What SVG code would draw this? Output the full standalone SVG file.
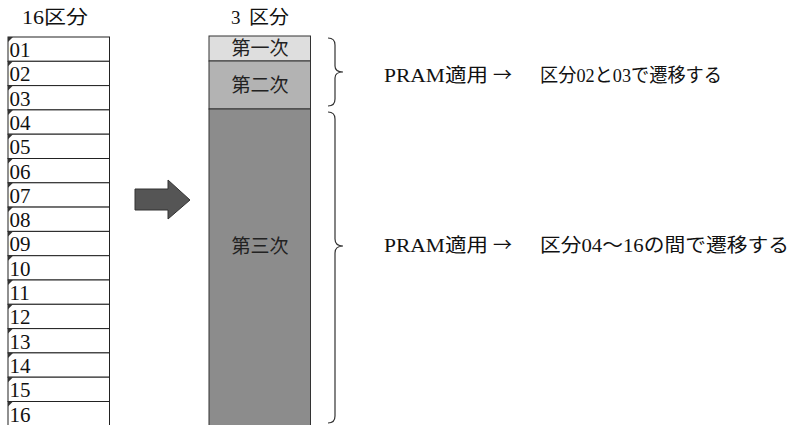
<svg xmlns="http://www.w3.org/2000/svg" width="793" height="425" viewBox="0 0 793 425">
<style>
.t{font-family:"Liberation Serif","Noto Sans CJK JP",serif;font-size:19px;fill:#111}
.n{font-family:"Liberation Serif",serif;font-size:21px;fill:#111}
.c{font-family:"Liberation Serif","Noto Sans CJK JP",serif;font-size:19px;fill:#222;text-anchor:middle}
.ar{font-family:"Noto Sans CJK JP",sans-serif;font-size:19px}
.cell{fill:#fff;stroke:#222;stroke-width:1}
.mk{fill:#333}
.brace{fill:none;stroke:#333;stroke-width:1.2}
</style>
<rect width="793" height="425" fill="#fff"/>
<text class="t" x="22" y="24" textLength="66" lengthAdjust="spacingAndGlyphs">16区分</text>
<text class="t" y="24"><tspan x="231">3</tspan><tspan x="249" textLength="40" lengthAdjust="spacingAndGlyphs">区分</tspan></text>
<g id="table16">
<rect class="cell" x="8" y="37" width="101.5" height="24.3"/><path class="mk" d="M8,37h5l-5,5z"/><text class="n" x="9.5" y="57">01</text>
<rect class="cell" x="8" y="61.3" width="101.5" height="24.3"/><path class="mk" d="M8,61.3h5l-5,5z"/><text class="n" x="9.5" y="81.3">02</text>
<rect class="cell" x="8" y="85.6" width="101.5" height="24.3"/><path class="mk" d="M8,85.6h5l-5,5z"/><text class="n" x="9.5" y="105.6">03</text>
<rect class="cell" x="8" y="109.9" width="101.5" height="24.3"/><path class="mk" d="M8,109.9h5l-5,5z"/><text class="n" x="9.5" y="129.9">04</text>
<rect class="cell" x="8" y="134.2" width="101.5" height="24.3"/><path class="mk" d="M8,134.2h5l-5,5z"/><text class="n" x="9.5" y="154.2">05</text>
<rect class="cell" x="8" y="158.5" width="101.5" height="24.3"/><path class="mk" d="M8,158.5h5l-5,5z"/><text class="n" x="9.5" y="178.5">06</text>
<rect class="cell" x="8" y="182.8" width="101.5" height="24.3"/><path class="mk" d="M8,182.8h5l-5,5z"/><text class="n" x="9.5" y="202.8">07</text>
<rect class="cell" x="8" y="207.1" width="101.5" height="24.3"/><path class="mk" d="M8,207.1h5l-5,5z"/><text class="n" x="9.5" y="227.1">08</text>
<rect class="cell" x="8" y="231.4" width="101.5" height="24.3"/><path class="mk" d="M8,231.4h5l-5,5z"/><text class="n" x="9.5" y="251.4">09</text>
<rect class="cell" x="8" y="255.7" width="101.5" height="24.3"/><path class="mk" d="M8,255.7h5l-5,5z"/><text class="n" x="9.5" y="275.7">10</text>
<rect class="cell" x="8" y="280" width="101.5" height="24.3"/><path class="mk" d="M8,280h5l-5,5z"/><text class="n" x="9.5" y="300">11</text>
<rect class="cell" x="8" y="304.3" width="101.5" height="24.3"/><path class="mk" d="M8,304.3h5l-5,5z"/><text class="n" x="9.5" y="324.3">12</text>
<rect class="cell" x="8" y="328.6" width="101.5" height="24.3"/><path class="mk" d="M8,328.6h5l-5,5z"/><text class="n" x="9.5" y="348.6">13</text>
<rect class="cell" x="8" y="352.9" width="101.5" height="24.3"/><path class="mk" d="M8,352.9h5l-5,5z"/><text class="n" x="9.5" y="372.9">14</text>
<rect class="cell" x="8" y="377.2" width="101.5" height="24.3"/><path class="mk" d="M8,377.2h5l-5,5z"/><text class="n" x="9.5" y="397.2">15</text>
<rect class="cell" x="8" y="401.5" width="101.5" height="30"/><path class="mk" d="M8,401.5h5l-5,5z"/><text class="n" x="9.5" y="421.5">16</text>
</g>
<g id="arrow">
<path d="M135,189H168V180L190,200L168,219V210H135Z" fill="#555" stroke="#333" stroke-width="1"/>
</g>
<g id="dai1">
<rect x="209" y="36" width="101.5" height="25" fill="#dedede" stroke="#333" stroke-width="1"/>
<text class="c" x="260" y="55">第一次</text>
</g>
<g id="dai2">
<rect x="209" y="61" width="101.5" height="48" fill="#b3b3b3" stroke="#333" stroke-width="1"/>
<text class="c" x="260" y="92">第二次</text>
</g>
<g id="dai3">
<rect x="209" y="109" width="101.5" height="330" fill="#8c8c8c" stroke="#333" stroke-width="1"/>
<text class="c" x="260" y="253">第三次</text>
</g>
<g id="connectors">
<path class="brace" d="M328,38Q335,38 335,45V66Q335,72 343,72Q335,72 335,78V99Q335,106 328,106"/>
<path class="brace" d="M328,112Q335,112 335,119V239Q335,246 343,246Q335,246 335,253V416Q335,423 328,423"/>
</g>
<g id="label1"><text class="t" y="82"><tspan x="384" textLength="104" lengthAdjust="spacingAndGlyphs">PRAM適用</tspan><tspan class="ar" x="493">→</tspan><tspan x="540" textLength="182" lengthAdjust="spacingAndGlyphs">区分02と03で遷移する</tspan></text></g>
<g id="label2"><text class="t" y="252"><tspan x="384" textLength="104" lengthAdjust="spacingAndGlyphs">PRAM適用</tspan><tspan class="ar" x="493">→</tspan><tspan x="540" textLength="249" lengthAdjust="spacingAndGlyphs">区分04～16の間で遷移する</tspan></text></g>
</svg>
